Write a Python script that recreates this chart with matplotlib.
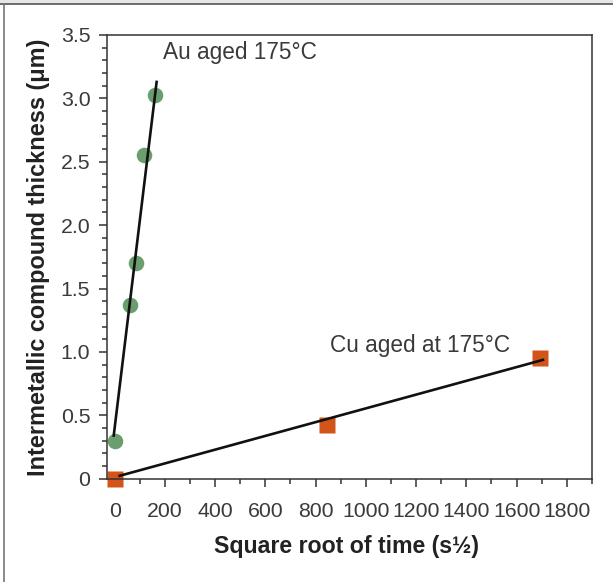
import matplotlib
matplotlib.use("Agg")
import matplotlib.pyplot as plt
from matplotlib.lines import Line2D

plt.rcParams['font.family'] = ['Liberation Sans', 'DejaVu Sans']

# Data
au_x = [0, 62, 86, 118, 162]
au_y = [0.30, 1.37, 1.70, 2.55, 3.03]
au_fit_x = [-4, 168]
au_fit_y = [0.33, 3.14]

cu_x = [0, 845, 1695]
cu_y = [0.0, 0.42, 0.955]
cu_fit_x = [15, 1710]
cu_fit_y = [0.02, 0.94]

x_ticks = [0, 200, 400, 600, 800, 1000, 1200, 1400, 1600, 1800]
x_ticklabels = ['0', '200', '400', '600', '800', '1000', '1200', '1400', '1600', '1800']
y_ticks = [0, 0.5, 1.0, 1.5, 2.0, 2.5, 3.0, 3.5]
y_ticklabels = ['0', '0.5', '1.0', '1.5', '2.0', '2.5', '3.0', '3.5']

green = '#6a9e6f'
orange = '#d35418'
dark = '#333333'

fig = plt.figure(figsize=(6.13, 5.82), dpi=100)
ax = fig.add_axes([0.1746, 0.1775, 0.7911, 0.7624])

ax.plot(au_fit_x, au_fit_y, color='#111111', lw=1.9, zorder=3, solid_capstyle='butt')
ax.plot(cu_fit_x, cu_fit_y, color='#111111', lw=1.9, zorder=3, solid_capstyle='butt')
ax.plot(au_x, au_y, 'o', color=green, ms=11.2, mec='none', zorder=2, clip_on=False)
ax.plot(cu_x, cu_y, 's', color=orange, ms=11.5, mec='none', zorder=2, clip_on=False)

ax.set_xlim(-30, 1900)
ax.set_ylim(0, 3.5)
ax.set_xticks(x_ticks)
ax.set_xticklabels(x_ticklabels)
ax.set_yticks(y_ticks)
ax.set_yticklabels(y_ticklabels)
ax.set_xticks(list(range(-0, 1901, 100)), minor=True)
ax.set_yticks([i / 10 for i in range(0, 36)], minor=True)

for s in ax.spines.values():
    s.set_color(dark)
    s.set_linewidth(1.1)

ax.tick_params(axis='both', which='major', direction='out', length=6, width=1.1,
               color=dark, labelcolor='#3a3a3a', labelsize=15.3)
ax.tick_params(axis='both', which='minor', direction='out', length=3.5, width=1.1, color=dark)
ax.tick_params(axis='x', which='major', pad=11)
ax.tick_params(axis='y', which='major', pad=6)

ax.set_ylabel('Intermetallic compound thickness (μm)', fontsize=16.9, fontweight='bold', color='#222222')
ax.set_xlabel('Square root of time (s½)', fontsize=16.7, fontweight='bold', color='#222222')
ax.yaxis.set_label_coords(-0.118, 0.5)
ax.xaxis.label.set_va('baseline')
ax.xaxis.set_label_coords(0.493, -0.168)

ax.text(194, 3.365, 'Au aged 175°C', fontsize=16.3, color='#3a3a3a', va='center', ha='left')
ax.text(858, 1.047, 'Cu aged at 175°C', fontsize=16.3, color='#3a3a3a', va='center', ha='left')

# figure frame lines (top and left)
fig.add_artist(Line2D([0, 1], [1 - 3.5 / 582, 1 - 3.5 / 582], transform=fig.transFigure, color='#555555', lw=1.2))
fig.add_artist(Line2D([3.5 / 613, 3.5 / 613], [0, 1 - 3.5 / 582], transform=fig.transFigure, color='#777777', lw=1.2))
fig.patches.append(matplotlib.patches.Rectangle((0, 1 - 3 / 582), 1, 3 / 582, transform=fig.transFigure,
                                                color='#e6e6e6', zorder=-1))

fig.savefig('out.png', dpi=100)
